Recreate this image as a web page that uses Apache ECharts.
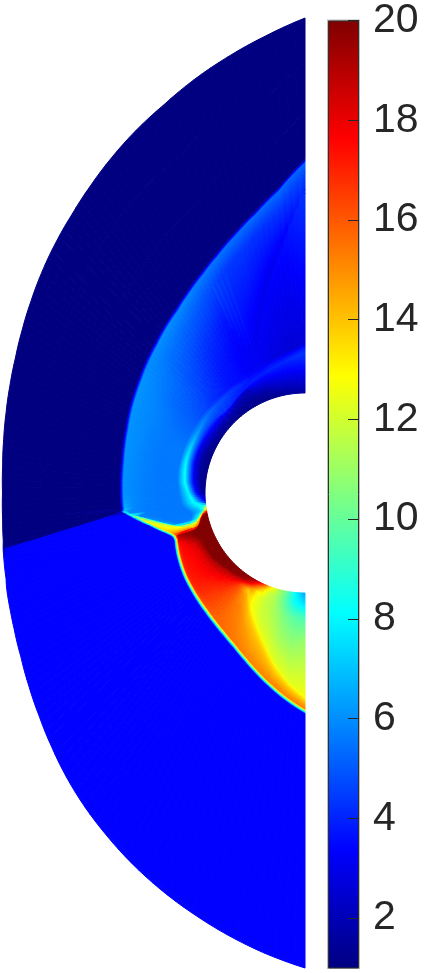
<!DOCTYPE html>
<html>
<head>
<meta charset="utf-8">
<style>
    html, body { margin: 0; padding: 0; background: #fff; }
    #chart { width: 424px; height: 973px; }
</style>
<script src="https://cdn.jsdelivr.net/npm/echarts@6/dist/echarts.min.js"></script>
</head>
<body>
<div id="chart"></div>
<script>
// jet colour map, evenly spaced from colorMin to colorMax
const jetColors = ['#000080', '#0000ff', '#0080ff', '#00ffff', '#80ff80', '#ffff00', '#ff8000', '#ff0000', '#800000'];
const colorMin = 1;
const colorMax = 20;
const colorbarTicks = [2, 4, 6, 8, 10, 12, 14, 16, 18, 20];

// field: one row per ray, angle in degrees from straight up
const rayAngles = [0, 5, 10, 15, 20, 25, 30, 35, 40, 45, 50, 55, 60, 65, 70, 75, 80, 85, 90, 95,
    96, 97, 98, 99, 100, 100.5, 102, 104, 106, 107.5, 108.5, 110, 112,
    115, 120, 125, 130, 135, 140, 145, 150, 155, 160, 165, 170, 175, 180];

// distance from the cylinder centre of each stop along the ray
const rayRadii = [
    [100, 108, 125, 140, 146, 150, 300, 304, 322, 330, 334.5, 380, 430, 475],
    [100, 108, 124, 136, 140, 145, 248, 252, 286, 302.5, 307, 350, 400, 458.5],
    [100, 108, 122, 132, 136, 141, 208, 212, 266, 282.5, 287, 340, 390, 443],
    [100, 108, 120, 129, 133, 137, 170, 174, 250, 266.5, 271, 330, 380, 428],
    [100, 107, 118, 126, 130, 134, 140, 143, 236, 252.5, 257, 310, 360, 413],
    [100, 107, 116, 124, 128.5, 133, 160, 190, 225, 240.5, 245, 300, 350, 400],
    [100, 106, 118, 120, 126, 130, 155, 180, 214, 230.5, 235, 290, 340, 387],
    [100, 106, 115, 118, 126, 130, 150, 175, 205, 221.5, 226, 280, 330, 374.5],
    [100, 105, 112, 115, 125, 129, 148, 172, 199, 215, 219.5, 270, 320, 363],
    [100, 105, 110, 115, 125, 129, 148, 170, 192, 208.5, 213, 265, 310, 353],
    [100, 105, 111, 117, 125, 129, 146, 166, 187, 203.5, 208, 255, 300, 343.5],
    [100, 105, 111, 118, 124, 129, 145, 163, 182, 198.5, 203, 250, 290, 334.5],
    [100, 105, 112, 118, 123, 129, 145, 160, 178, 194.5, 199, 245, 285, 326.5],
    [100, 106, 113, 118, 123, 129, 145, 160, 175, 191, 195.5, 240, 280, 319.5],
    [100, 106, 113, 118, 123, 129, 145, 160, 173, 187.5, 192, 235, 275, 314],
    [100, 106, 113, 118, 123, 129, 145, 160, 172, 185, 189.5, 230, 270, 309.5],
    [100, 106, 112, 117, 122, 129, 145, 160, 172, 183, 187.5, 228, 268, 306],
    [100, 105, 111, 116, 120.5, 128, 145, 160, 172, 182, 186.5, 225, 265, 303.5],
    [100, 104, 109, 113, 116.5, 126, 145, 160, 172, 181.5, 186, 225, 265, 302.5],
    [100, 103, 106, 109, 111.5, 124, 145, 160, 172, 181, 185.5, 222, 262, 303.5],
    [100, 102, 104, 106, 110, 124, 145, 160, 177, 182, 185, 186, 190, 304],
    [100, 102, 104, 106, 109, 122, 145, 160, 174, 176.5, 180.5, 200, 206, 304.5],
    [100, 102, 104, 106, 108, 120, 150, 167, 169.5, 171.5, 176, 221, 227, 305],
    [100, 102, 103.5, 105, 107, 118, 148, 160, 163, 166.5, 172, 249, 255, 305.5],
    [100, 102, 103.5, 105, 107, 116, 145, 154, 158, 162.5, 168, 283, 289, 306.5],
    [100, 103, 104.5, 106, 108, 116, 143, 151, 155, 160.5, 166, 302, 305, 307],
    [100, 104, 106.5, 108, 110, 116, 136, 143, 147, 154.5, 159.5, 303, 306, 308],
    [100, 107, 109, 111, 113, 119, 129, 133, 137, 148, 153, 305, 307.5, 309.5],
    [100, 109, 111, 115, 118, 121, 123, 124.5, 126, 141, 146.5, 307, 309, 311],
    [100, 112, 114, 116, 118, 121, 124, 127, 130, 137, 142, 309, 311, 313],
    [100, 115, 118, 122, 126, 128, 130, 132, 134, 135.5, 140, 310, 312, 314],
    [100, 118, 122, 125, 127, 129, 130, 132, 133.5, 135, 139.5, 311.5, 313.5, 315.5],
    [100, 115, 120, 124, 126, 128, 129, 131, 133, 136, 141, 313.5, 315.5, 317.5],
    [100, 112, 118, 122, 125, 128, 130, 132, 135, 138, 143, 317, 319, 321],
    [100, 112, 116, 120, 124, 128, 130, 133, 137, 140.8, 145.8, 324, 326, 328],
    [100, 112, 115, 120, 125, 129, 132, 136, 140, 143.5, 148.5, 333, 335, 337],
    [100, 110, 113, 120, 125, 130, 135, 139, 143, 145.8, 150.8, 343, 345, 347],
    [100, 107, 111, 118, 125, 131, 137, 141, 145, 148.5, 153.5, 354.5, 356.5, 358.5],
    [100, 106, 110, 116, 124, 132, 138, 144, 148, 151.5, 156.5, 367, 369, 371],
    [100, 105, 108, 110, 112, 115, 118, 135, 151, 155.3, 160.3, 379.5, 381.5, 383.5],
    [100, 104, 108, 110, 112, 114, 118, 130, 150, 160, 165, 392, 394, 396],
    [100, 104, 110, 120, 127, 129, 134, 145, 158, 166, 171, 405, 407, 409],
    [100, 106, 115, 130, 141, 143, 149, 160, 169, 174, 179, 418, 420, 422],
    [100, 108, 120, 140, 156, 158, 164, 173, 180, 183.5, 188.5, 431, 433, 435],
    [100, 110, 125, 150, 174, 176, 182, 187, 191, 194, 199, 444.5, 446.5, 448.5],
    [100, 110, 125, 160, 190, 192, 196, 200, 203, 205, 210, 458, 460, 462],
    [100, 115, 125, 145, 204, 206, 209, 212, 214, 216, 221, 471, 473, 475]
];

// field value at each of those stops
const rayValues = [
    [1.5, 2.2, 3.5, 4.3, 3.7, 2.6, 4.3, 4.2, 4.8, 5.2, 1, 1, 1, 1],
    [1.5, 2.2, 3.4, 4.2, 3.6, 2.6, 3.5, 3.2, 4.4, 5.3, 1, 1, 1, 1],
    [1.4, 2.1, 3.3, 4.0, 3.6, 2.7, 3.3, 3.0, 4.3, 5.3, 1, 1, 1, 1],
    [1.3, 2.0, 3.2, 4.0, 3.6, 2.9, 3.2, 3.0, 4.4, 5.4, 1, 1, 1, 1],
    [1.2, 1.6, 2.8, 3.9, 3.5, 3.1, 3.2, 3.0, 4.4, 5.5, 1, 1, 1, 1],
    [1.2, 1.5, 2.6, 3.9, 3.5, 3.2, 3.3, 3.7, 4.8, 5.6, 1, 1, 1, 1],
    [1.2, 1.4, 2.2, 3.7, 4.0, 3.5, 3.6, 4.0, 5.0, 5.8, 1, 1, 1, 1],
    [1.2, 1.4, 2.1, 3.9, 4.3, 3.6, 3.8, 4.3, 5.2, 5.9, 1, 1, 1, 1],
    [1.2, 1.4, 2.2, 4.1, 4.6, 3.9, 4.2, 4.7, 5.4, 6.0, 1, 1, 1, 1],
    [1.2, 1.5, 2.4, 4.3, 4.9, 4.2, 4.6, 5.0, 5.5, 6.0, 1, 1, 1, 1],
    [1.2, 1.5, 2.6, 4.5, 5.3, 4.6, 4.9, 5.3, 5.7, 6.0, 1, 1, 1, 1],
    [1.2, 1.5, 2.7, 4.7, 5.8, 4.9, 5.1, 5.4, 5.8, 6.1, 1, 1, 1, 1],
    [1.2, 1.5, 2.8, 4.8, 6.2, 5.2, 5.3, 5.6, 5.9, 6.1, 1, 1, 1, 1],
    [1.1, 1.5, 2.8, 5.0, 6.9, 5.4, 5.5, 5.7, 5.9, 6.1, 1, 1, 1, 1],
    [1.1, 1.4, 2.6, 5.0, 7.5, 5.6, 5.6, 5.7, 5.9, 6.1, 1, 1, 1, 1],
    [1.1, 1.4, 2.6, 5.2, 8.0, 5.6, 5.6, 5.7, 5.9, 6.1, 1, 1, 1, 1],
    [1.1, 1.4, 2.8, 5.4, 8.2, 5.6, 5.6, 5.7, 5.9, 6.1, 1, 1, 1, 1],
    [1.1, 1.5, 3.0, 5.6, 8.2, 5.6, 5.6, 5.7, 5.9, 6.1, 1, 1, 1, 1],
    [1.2, 1.8, 3.6, 6.0, 8.0, 5.6, 5.6, 5.7, 5.9, 6.0, 1, 1, 1, 1],
    [3.0, 4.5, 6.0, 7.4, 8.2, 5.6, 5.6, 5.7, 5.9, 6.6, 1, 1, 1, 1],
    [4.5, 6.0, 7.0, 8.0, 8.0, 5.6, 5.6, 5.7, 5.9, 7.0, 1.5, 1.5, 1, 1],
    [9.0, 8.0, 8.0, 8.2, 7.8, 5.6, 5.6, 5.6, 6.0, 8.5, 3.4, 3.4, 1, 1],
    [11, 9.5, 8.5, 8.0, 7.5, 5.6, 5.6, 5.8, 9, 10.5, 3.4, 3.4, 1, 1],
    [13, 10.5, 8.8, 8.0, 7.2, 5.6, 5.6, 5.8, 10, 11.5, 3.4, 3.4, 1, 1],
    [15, 12, 9.0, 8.0, 7.0, 5.6, 5.6, 6.0, 11, 12.5, 3.4, 3.4, 1, 1],
    [17, 13, 9.5, 8.0, 7.0, 5.6, 5.6, 6.0, 11, 12.8, 3.4, 3.4, 2.2, 1.5],
    [20, 19.5, 13, 9.0, 7.5, 5.6, 5.6, 6.2, 11.5, 13.2, 3.4, 3.4, 3.4, 3.4],
    [20, 20, 14, 10, 8.0, 5.8, 5.8, 6.5, 12, 13.5, 3.4, 3.4, 3.4, 3.4],
    [20, 20, 15, 13.5, 13, 12.8, 13, 13, 13, 13.8, 3.4, 3.4, 3.4, 3.4],
    [20, 20, 16, 14, 14.5, 15.5, 15.5, 15.5, 15.5, 15, 3.4, 3.4, 3.4, 3.4],
    [20, 20, 19.8, 19.6, 19.5, 19.5, 19.5, 19.5, 19, 17, 3.4, 3.4, 3.4, 3.4],
    [20, 20, 19.8, 19.6, 19.5, 19.3, 19, 18.8, 18.5, 18, 3.4, 3.4, 3.4, 3.4],
    [20, 20, 19.5, 19, 18.8, 18.5, 18.2, 18, 17.8, 17.5, 3.4, 3.4, 3.4, 3.4],
    [20, 20, 19, 18.2, 18, 17.8, 17.7, 17.6, 17.5, 17, 3.4, 3.4, 3.4, 3.4],
    [20, 20, 19, 18.2, 17.9, 17.7, 17.6, 17.5, 17.4, 17, 3.4, 3.4, 3.4, 3.4],
    [20, 20, 19, 18.2, 17.8, 17.6, 17.5, 17.4, 17.3, 17, 3.4, 3.4, 3.4, 3.4],
    [20, 20, 19, 18, 17.7, 17.5, 17.3, 17.2, 17.1, 16.8, 3.4, 3.4, 3.4, 3.4],
    [20, 20, 18.8, 17.8, 17.3, 17, 16.9, 16.8, 16.7, 16.4, 3.4, 3.4, 3.4, 3.4],
    [20, 19.8, 18.5, 17.3, 16.8, 16.5, 16.4, 16.3, 16.2, 16, 3.4, 3.4, 3.4, 3.4],
    [20, 19.5, 18, 17, 16.4, 16.2, 16.1, 15.9, 15.8, 15.8, 3.4, 3.4, 3.4, 3.4],
    [19.5, 18, 16, 14.8, 14, 13.8, 14.5, 15.2, 15.5, 15.6, 3.4, 3.4, 3.4, 3.4],
    [17.5, 15, 12.8, 12.6, 12.8, 13.2, 14, 14.8, 15.2, 15.4, 3.4, 3.4, 3.4, 3.4],
    [13.5, 12, 11.8, 12, 12.6, 13.2, 14, 14.6, 15, 15.3, 3.4, 3.4, 3.4, 3.4],
    [11.5, 11.2, 11.3, 11.8, 12.5, 13.2, 14, 14.6, 15, 15.2, 3.4, 3.4, 3.4, 3.4],
    [10, 9.8, 10.5, 11.3, 12.4, 13.2, 14, 14.6, 15, 15.2, 3.4, 3.4, 3.4, 3.4],
    [8, 8.2, 9.8, 11.2, 12.4, 13.2, 14, 14.6, 15, 15.2, 3.4, 3.4, 3.4, 3.4],
    [6.5, 8, 9.5, 10.8, 12.7, 13.2, 14, 14.6, 15, 15.2, 3.4, 3.4, 3.4, 3.4]
];

function colorOf(value) {
    return echarts.color.lerp((value - colorMin) / (colorMax - colorMin), jetColors);
}

// position along a wedge between ray i and ray i + 1, f runs from 0 to 1
function meshPoint(api, i, j, f) {
    const angle = (rayAngles[i] + (rayAngles[i + 1] - rayAngles[i]) * f) * Math.PI / 180;
    const radius = rayRadii[i][j] + (rayRadii[i + 1][j] - rayRadii[i][j]) * f;
    return api.coord([-radius * Math.sin(angle), radius * Math.cos(angle)]);
}

function meshValue(i, j, f) {
    return rayValues[i][j] + (rayValues[i + 1][j] - rayValues[i][j]) * f;
}

// wide wedges are shaded in slices so neighbouring rays blend
const fieldCells = [];
rayAngles.slice(1).forEach((angle, i) => {
    const slices = Math.max(1, Math.ceil((angle - rayAngles[i]) / 1.25));
    rayRadii[i].slice(1).forEach((_, j) => {
        for (let k = 0; k < slices; k++) {
            fieldCells.push([i, j, k, slices]);
        }
    });
});

function renderCell(params, api) {
    const i = api.value(0);
    const j = api.value(1);
    const f0 = api.value(2) / api.value(3);
    const f1 = (api.value(2) + 1) / api.value(3);
    const a = meshPoint(api, i, j, f0);
    const b = meshPoint(api, i, j, f1);
    const c = meshPoint(api, i, j + 1, f1);
    const d = meshPoint(api, i, j + 1, f0);

    const from = meshValue(i, j, (f0 + f1) / 2);
    const to = meshValue(i, j + 1, (f0 + f1) / 2);
    const steps = 8;
    const stops = [];
    for (let k = 0; k <= steps; k++) {
        stops.push({ offset: k / steps, color: colorOf(from + (to - from) * k / steps) });
    }

    // colour bands run parallel to the cell's inner edge, not across the ray,
    // otherwise a slanted shock comes out as a saw tooth
    const mx = (a[0] + b[0]) / 2;
    const my = (a[1] + b[1]) / 2;
    const ex = b[0] - a[0];
    const ey = b[1] - a[1];
    const el = Math.hypot(ex, ey) || 1;
    const nx = -ey / el;
    const ny = ex / el;
    const depth = ((c[0] + d[0]) / 2 - mx) * nx + ((c[1] + d[1]) / 2 - my) * ny;
    const fill = new echarts.graphic.LinearGradient(mx, my, mx + nx * depth, my + ny * depth, stops, true);

    return {
        type: 'polygon',
        shape: { points: [a, b, c, d] },
        style: { fill: fill, stroke: fill, lineWidth: 1 }
    };
}

const myChart = echarts.init(document.getElementById('chart'), null, { renderer: 'canvas' });
myChart.setOption({
    animation: false,
    backgroundColor: '#fff',
    grid: [
        { left: 0, top: 18, width: 305, height: 950 },
        { left: 328, top: 18, width: 31, height: 950, show: true, borderColor: '#bbb', borderWidth: 2 }
    ],
    xAxis: [
        { type: 'value', gridIndex: 0, min: -305, max: 0, show: false },
        { type: 'category', gridIndex: 1, data: ['colorbar'], show: false }
    ],
    yAxis: [
        { type: 'value', gridIndex: 0, min: -475, max: 475, show: false },
        {
            type: 'value',
            gridIndex: 1,
            position: 'right',
            min: colorMin,
            max: colorMax,
            splitLine: { show: false },
            axisLine: { show: false },
            axisTick: {
                show: true,
                inside: true,
                length: 11,
                customValues: colorbarTicks,
                lineStyle: { color: '#262626', width: 1 }
            },
            axisLabel: {
                show: true,
                customValues: colorbarTicks,
                margin: 14,
                fontFamily: 'Liberation Sans',
                fontSize: 41,
                color: '#262626'
            },
            z: 10
        }
    ],
    series: [
        {
            type: 'custom',
            xAxisIndex: 0,
            yAxisIndex: 0,
            coordinateSystem: 'cartesian2d',
            renderItem: renderCell,
            data: fieldCells,
            clip: false,
            silent: true,
            progressive: 0
        },
        {
            type: 'bar',
            xAxisIndex: 1,
            yAxisIndex: 1,
            data: [colorMax],
            barWidth: '100%',
            silent: true,
            itemStyle: {
                borderColor: '#303030',
                borderWidth: 1,
                color: new echarts.graphic.LinearGradient(0, 1, 0, 0,
                    jetColors.map((c, i) => ({ offset: i / (jetColors.length - 1), color: c })))
            }
        }
    ]
});
window.addEventListener('resize', () => myChart.resize());
</script>
</body>
</html>
